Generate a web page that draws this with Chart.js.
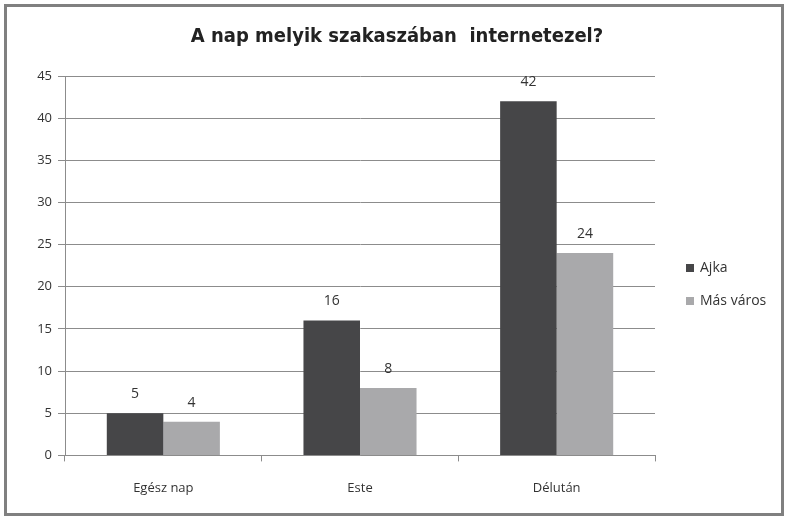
<!DOCTYPE html>
<html>
<head>
<meta charset="utf-8">
<script src="https://cdn.jsdelivr.net/npm/chart.js@4.4.1/dist/chart.umd.min.js"></script>
<style>
    body { margin: 0; background: #fff; }
    #frame {
        position: absolute;
        left: 4px; top: 4px;
        width: 774px; height: 506px;
        border: 3px solid #808080;
        background: #fff;
    }
</style>
</head>
<body>
<div id="frame"><canvas id="Chart1" width="774" height="506"></canvas></div>
<script>
var categories = ["Egész nap", "Este", "Délután"];
var ajka = [5, 16, 42];
var masVaros = [4, 8, 24];
var yTicks = [0, 5, 10, 15, 20, 25, 30, 35, 40, 45];

var textFont = "'Open Sans', 'Noto Sans', sans-serif";
var tickFont = { family: textFont, size: 13 };

// writes the value over each bar
var valueLabels = {
    id: 'valueLabels',
    afterDatasetsDraw: function (chart) {
        var ctx = chart.ctx;
        ctx.save();
        ctx.fillStyle = '#333';
        ctx.font = "14px " + textFont;
        ctx.textAlign = 'center';
        ctx.textBaseline = 'bottom';
        chart.data.datasets.forEach(function (ds, i) {
            chart.getDatasetMeta(i).data.forEach(function (bar, j) {
                ctx.fillText(ds.data[j], bar.x, bar.y - 12);
            });
        });
        ctx.restore();
    }
};

// legend to the right of the plot, same look as the excel one
var sideLegend = {
    id: 'sideLegend',
    afterDraw: function (chart) {
        var ctx = chart.ctx;
        var x = chart.chartArea.right + 31;
        var y = 261;
        ctx.save();
        ctx.font = "14px " + textFont;
        ctx.textBaseline = 'middle';
        chart.data.datasets.forEach(function (ds, i) {
            var cy = y + i * 33;
            ctx.fillStyle = ds.backgroundColor;
            ctx.fillRect(x, cy - 4, 8, 8);
            ctx.fillStyle = '#333';
            ctx.fillText(ds.label, x + 14, cy);
        });
        ctx.restore();
    }
};

var ctx1 = document.getElementById("Chart1");
var Chart1 = new Chart(ctx1, {
    type: 'bar',
    data: {
        labels: categories,
        datasets: [{
            label: 'Ajka',
            backgroundColor: "#464648",
            data: ajka,
        }, {
            label: 'Más város',
            backgroundColor: "#a9a9ab",
            data: masVaros,
        }],
    },
    plugins: [valueLabels, sideLegend],
    options: {
        responsive: false,
        animation: false,
        barPercentage: 1,
        categoryPercentage: 0.575,
        layout: { padding: { left: 8, right: 2, top: 0, bottom: -2 } },
        plugins: {
            title: {
                display: true,
                text: 'A nap melyik szakaszában  internetezel?',
                color: '#222',
                font: { family: "'Liberation Sans Narrow', 'DejaVu Sans Condensed', sans-serif", size: 20, weight: 'bold' },
                padding: { top: 18, bottom: 27 }
            },
            legend: { display: false },
            tooltip: { enabled: false }
        },
        scales: {
            x: {
                grid: { drawOnChartArea: false, tickLength: 6, color: '#8c8c8c' },
                border: { color: '#8c8c8c' },
                ticks: { color: '#333', font: tickFont, padding: 19 }
            },
            y: {
                min: 0,
                max: 45,
                afterBuildTicks: function (axis) {
                    axis.ticks = yTicks.map(function (v) { return { value: v }; });
                },
                afterFit: function (axis) { axis.width = 50; },
                grid: { color: '#8c8c8c', tickLength: 7 },
                border: { color: '#8c8c8c' },
                ticks: { color: '#333', font: tickFont, padding: 6 }
            },
            // empty axis on the right, keeps room for the legend
            legendSpace: {
                type: 'linear',
                position: 'right',
                grid: { display: false },
                border: { display: false },
                ticks: { display: false },
                afterFit: function (axis) { axis.width = 124; }
            }
        }
    }
});
</script>
</body>
</html>
